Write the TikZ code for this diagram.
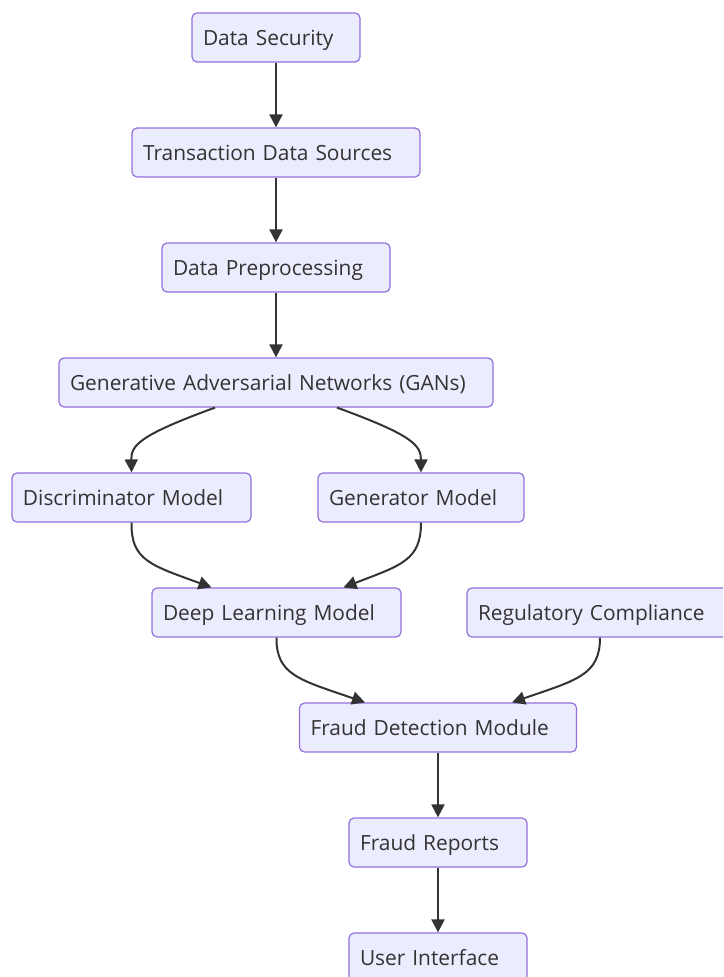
\documentclass[tikz,border=0pt]{standalone}
\usepackage{fontspec}
\setmainfont{Open Sans}
\usetikzlibrary{arrows.meta}
\definecolor{boxfill}{HTML}{ECECFF}
\definecolor{boxline}{HTML}{9370DB}
\definecolor{ink}{HTML}{333333}
\tikzset{
  box/.style={draw=boxline, fill=boxfill, line width=1.2pt, rounded corners=5pt,
    minimum height=49pt, inner xsep=11pt, inner ysep=0pt, align=left,
    text height=20pt, text depth=4pt,
    font=\fontsize{20.9}{24}\selectfont, text=ink},
  link/.style={draw=ink, line width=2pt, -{Triangle[length=13pt,width=13pt]}}
}
\begin{document}
\begin{tikzpicture}[x=1pt,y=-1pt]
\useasboundingbox (0,0) rectangle (723,977);
\clip (0,0) rectangle (723,977);
\node[box, minimum width=168pt, text width=146pt] (ds) at (276,37.5) {Data Security};
\node[box, minimum width=288pt, text width=266pt] (tds) at (276,152.5) {Transaction Data Sources};
\node[box, minimum width=228pt, text width=206pt] (dp) at (276,267.5) {Data Preprocessing};
\node[box, minimum width=434pt, text width=412pt] (gan) at (276,382.5) {Generative Adversarial Networks (GANs)};
\node[box, minimum width=239pt, text width=217pt] (disc) at (131.5,497.5) {Discriminator Model};
\node[box, minimum width=206pt, text width=184pt] (gen) at (421,497.5) {Generator Model};
\node[box, minimum width=249pt, text width=227pt] (dlm) at (276.5,612.5) {Deep Learning Model};
\node[box, minimum width=266pt, text width=244pt] (rc) at (600,612.5) {Regulatory Compliance};
\node[box, minimum width=277pt, text width=255pt] (fdm) at (438,727.5) {Fraud Detection Module};
\node[box, minimum width=178pt, text width=156pt] (fr) at (438,842.5) {Fraud Reports};
\node[box, minimum width=178pt, text width=156pt] (ui) at (438,957.5) {User Interface};
\path[link] (ds) -- (tds);
\path[link] (tds) -- (dp);
\path[link] (dp) -- (gan);
\path[link] ([xshift=-61pt]gan.south) .. controls (140,435) and (131,445) .. (disc.north);
\path[link] ([xshift=61pt]gan.south) .. controls (412,435) and (421,445) .. (gen.north);
\path[link] (disc.south) .. controls (131,560) and (150,565) .. ([xshift=-65pt]dlm.north);
\path[link] (gen.south) .. controls (421,560) and (402,565) .. ([xshift=67pt]dlm.north);
\path[link] (dlm.south) .. controls (276,675) and (300,680) .. ([xshift=-73pt]fdm.north);
\path[link] (rc.south) .. controls (600,675) and (577,680) .. ([xshift=74pt]fdm.north);
\path[link] (fdm) -- (fr);
\path[link] (fr) -- (ui);
\end{tikzpicture}
\end{document}
